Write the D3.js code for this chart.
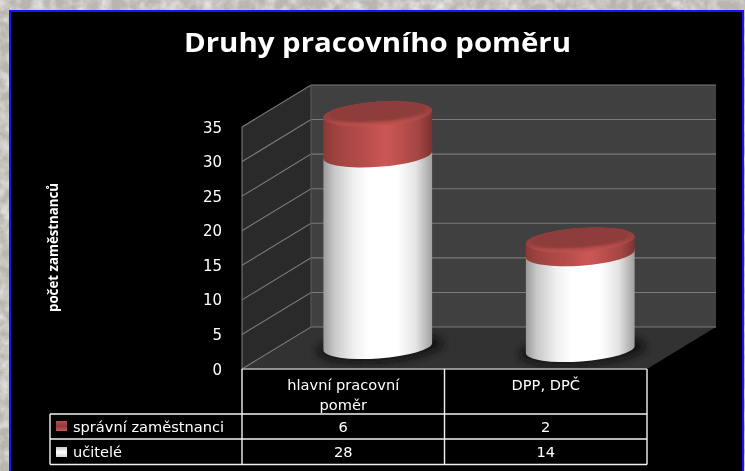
<!DOCTYPE html>
<html><head><meta charset="utf-8">
<script src="https://cdn.jsdelivr.net/npm/d3@7"></script>
<style>html,body{margin:0;padding:0;background:#e2dfdb;overflow:hidden}svg{display:block}</style>
</head><body><svg id="c" width="745" height="471"></svg>
<script>
const title = "Druhy pracovního poměru";
const yTitle = "počet zaměstnanců";
const categories = ["hlavní pracovní|poměr", "DPP, DPČ"];
const seriesNames = ["učitelé", "správní zaměstnanci"];
const ucitele = [28, 14];
const spravni = [6, 2];
const yTicks = [0, 5, 10, 15, 20, 25, 30, 35];

const svg = d3.select("#c");
const defs = svg.append("defs");

// textured page background
const tex = defs.append("filter").attr("id","tex").attr("x",0).attr("y",0).attr("width","100%").attr("height","100%");
tex.append("feTurbulence").attr("type","fractalNoise").attr("baseFrequency","0.09").attr("numOctaves",3).attr("seed",4);
tex.append("feColorMatrix").attr("values","0 0 0 0 0.88  0 0 0 0 0.87  0 0 0 0 0.85  1.6 0 0 0 -0.55");
defs.append("filter").attr("id","soft").append("feGaussianBlur").attr("stdDeviation",0.45);
defs.append("filter").attr("id","b3").attr("x","-30%").attr("y","-60%").attr("width","160%").attr("height","220%").append("feGaussianBlur").attr("stdDeviation",3);
defs.append("filter").attr("id","b1").attr("x","-10%").attr("y","-30%").attr("width","120%").attr("height","160%").append("feGaussianBlur").attr("stdDeviation",1);

function grad(id, stops, x2=1, y2=0){
  const g = defs.append("linearGradient").attr("id",id).attr("x1",0).attr("y1",0).attr("x2",x2).attr("y2",y2);
  stops.forEach(([o,c])=>g.append("stop").attr("offset",o).attr("stop-color",c));
}
grad("gWhite",[[0,"#9a9a9a"],[.1,"#c8c8c8"],[.28,"#f0f0f0"],[.42,"#ffffff"],[.68,"#ffffff"],[.85,"#e4e4e4"],[1,"#a0a0a0"]]);
grad("gRed",[[0,"#8a3937"],[.12,"#a04341"],[.35,"#b54c4a"],[.58,"#cb5755"],[.72,"#bb4f4d"],[.88,"#a34543"],[1,"#7c3331"]]);
grad("gRim",[[0,"#8a3b39"],[.6,"#9c4341"],[1,"#c4534f"]],0,1);
grad("gSwR",[[0,"#b84d4b"],[.5,"#8f3c3a"],[1,"#cc5856"]],0,1);
grad("gSwW",[[0,"#c8c8c8"],[.5,"#ffffff"],[1,"#d8d8d8"]],0,1);

svg.append("rect").attr("width",745).attr("height",471).attr("fill","#b9b5b0");
svg.append("rect").attr("width",745).attr("height",471).attr("filter","url(#tex)");

const root = svg.append("g").attr("filter","url(#soft)");
root.append("rect").attr("x",10).attr("y",11).attr("width",733).attr("height",470)
  .attr("fill","#000").attr("stroke","#1414f0").attr("stroke-width",2);

// scales
const fontLabel = "'DejaVu Sans', sans-serif";
const plotL = 242, plotR = 647, depthX = 69, depthY = 42;
const x = d3.scaleBand().domain(categories).range([plotL, plotR]);
const y = d3.scaleLinear().domain([0,35]).range([369,127]);

// walls and floor
const wallTop = y(35)-depthY, wallBot = y(0)-depthY;
root.append("path").attr("fill","#404040")
  .attr("d",d3.line()([[plotL+depthX,wallTop],[plotR+depthX,wallTop],[plotR+depthX,wallBot],[plotL+depthX,wallBot]]));
root.append("path").attr("fill","#2b2b2b")
  .attr("d",d3.line()([[plotL,y(35)],[plotL+depthX,wallTop],[plotL+depthX,wallBot],[plotL,y(0)]]));
root.append("path").attr("fill","#303030")
  .attr("d",d3.line()([[plotL,y(0)],[plotL+depthX,wallBot],[plotR+depthX,wallBot],[plotR,y(0)]]));

// gridlines
const grid = root.append("g").attr("fill","none").attr("stroke","#7a7a7a").attr("stroke-width",1.1);
yTicks.forEach(t=>{
  grid.append("path").attr("d",d3.line()([[plotL,y(t)],[plotL+depthX,y(t)-depthY],[plotR+depthX,y(t)-depthY]]));
});
grid.append("path").attr("d",d3.line()([[plotL,y(0)],[plotL,y(35)]]));
grid.append("path").attr("d",d3.line()([[plotL+depthX,wallTop],[plotL+depthX,wallBot]])).attr("stroke","#5a5a5a");

// cylinders
const rx = 54.5, ry = 12, rot = -4;
const baseOffset = [0, 3];
const yCyl = d3.scaleLinear().domain([0,35]).range([346.5,107]);
const stackData = categories.map((c,i)=>({cat:c, i, t:ucitele[i], s:spravni[i]}));
const stacked = d3.stack().keys(["t","s"])(stackData);
const dxR = rx*Math.cos(rot*Math.PI/180), dyR = rx*Math.sin(rot*Math.PI/180);
const fillFor = ["url(#gWhite)","url(#gRed)"];

stackData.forEach((d,i)=>{
  const cx = x(d.cat)+x.bandwidth()/2+depthX/2;
  const Y = v => yCyl(v)+baseOffset[i];
  root.append("ellipse").attr("cx",cx+2).attr("cy",Y(0)+1).attr("rx",rx+8).attr("ry",ry+3)
    .attr("transform",`rotate(${rot} ${cx} ${Y(0)})`).attr("fill","#0c0c0c").attr("opacity",.75).attr("filter","url(#b3)");
  stacked.forEach((layer,k)=>{
    const [y0,y1] = layer[i];
    const a = Y(y0), b = Y(y1);
    root.append("path").attr("fill",fillFor[k]).attr("d",
      `M${cx-dxR},${a-dyR} A${rx},${ry} ${rot} 0 0 ${cx+dxR},${a+dyR} L${cx+dxR},${b+dyR} A${rx},${ry} ${rot} 0 0 ${cx-dxR},${b-dyR} Z`);
  });
  const topY = Y(d.t+d.s);
  root.append("ellipse").attr("cx",cx).attr("cy",topY).attr("rx",rx).attr("ry",ry)
    .attr("transform",`rotate(${rot} ${cx} ${topY})`).attr("fill","url(#gRim)");
  root.append("ellipse").attr("cx",cx).attr("cy",topY-1.5).attr("rx",rx-6).attr("ry",ry-3)
    .attr("transform",`rotate(${rot} ${cx} ${topY})`).attr("fill","#8d3c3a").attr("filter","url(#b1)");
});

// title and y axis
root.append("text").attr("x",377.5).attr("y",52).attr("text-anchor","middle")
  .attr("textLength",387).attr("lengthAdjust","spacingAndGlyphs")
  .attr("font-family","'Open Sans', sans-serif").attr("font-weight",700).attr("font-size",27).attr("fill","#fff").text(title);
root.append("text").attr("transform","translate(58,247.5) rotate(-90)").attr("text-anchor","middle")
  .attr("textLength",129).attr("lengthAdjust","spacingAndGlyphs")
  .attr("font-family","'Open Sans', sans-serif").attr("font-weight",700).attr("font-size",14).attr("fill","#fff").text(yTitle);
root.append("g").selectAll("text").data(yTicks).join("text")
  .attr("x",222).attr("y",d=>y(d)+5.5).attr("text-anchor","end")
  .attr("font-family",fontLabel).attr("font-size",15).attr("fill","#fff").text(d=>d);

// data table
const tableL = 50, rowY = [369,414,439,464.5];
const tl = root.append("g").attr("stroke","#f2f2f2").attr("stroke-width",1.4).attr("fill","none");
tl.append("path").attr("d",`M${plotL},${rowY[0]}H${plotR}`).attr("stroke","#b8b8b8");
tl.append("path").attr("d",`M${tableL},${rowY[1]}H${plotR}M${tableL},${rowY[2]}H${plotR}M${tableL},${rowY[3]}H${plotR}M${tableL},${rowY[1]}V${rowY[3]}`);
[plotL, plotL+x.bandwidth(), plotR].forEach(v=>tl.append("path").attr("d",`M${v},${rowY[0]}V${rowY[3]}`));

const txt = (X,Y,s,anchor="middle")=>root.append("text").attr("x",X).attr("y",Y).attr("text-anchor",anchor)
  .attr("font-family",fontLabel).attr("font-size",14.6).attr("fill","#fff").text(s);
categories.forEach((c,i)=>{
  const cx = x(c)+x.bandwidth()/2;
  c.split("|").forEach((line,j)=>txt(cx,390+j*20,line));
  txt(cx,432,spravni[i]);
  txt(cx,457,ucitele[i]);
});
[[seriesNames[1],432,"url(#gSwR)",421],[seriesNames[0],457,"url(#gSwW)",447]].forEach(([n,by,f,sy])=>{
  txt(73,by,n,"start");
  root.append("rect").attr("x",56).attr("y",sy).attr("width",11).attr("height",10).attr("fill",f);
});
</script></body></html>
